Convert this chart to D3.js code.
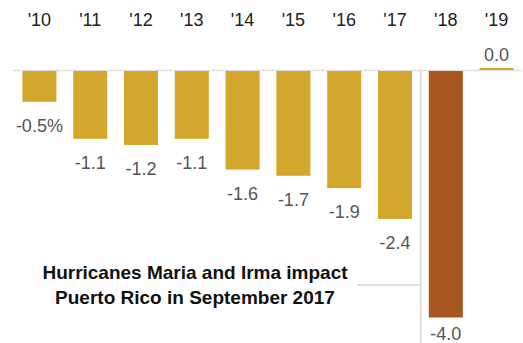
<!DOCTYPE html>
<html>
<head>
<meta charset="utf-8">
<script src="https://cdn.jsdelivr.net/npm/d3@7"></script>
<style>
  html, body { margin: 0; padding: 0; background: #fff; }
  svg { display: block; }
</style>
</head>
<body>
<svg id="chart" width="523" height="343"></svg>
<script>
// Annual change in Puerto Rico population, 2010-2019
const years = ["'10", "'11", "'12", "'13", "'14", "'15", "'16", "'17", "'18", "'19"];
const changes = [-0.5, -1.1, -1.2, -1.1, -1.6, -1.7, -1.9, -2.4, -4.0, 0.0];
const valueLabels = ["-0.5%", "-1.1", "-1.2", "-1.1", "-1.6", "-1.7", "-1.9", "-2.4", "-4.0", "0.0"];
const highlightYear = "'18";
const noteLines = ["Hurricanes Maria and Irma impact", "Puerto Rico in September 2017"];

const W = 523, H = 343;
const gold = "#d3a72b";
const brown = "#a8571f";

const svg = d3.select("#chart");
const font = "'Liberation Sans', Arial, sans-serif";

const x = d3.scaleBand()
  .domain(years)
  .range([14, 522])
  .paddingInner(0.33)
  .paddingOuter(0.165);

const y = d3.scaleLinear()
  .domain([-4, 0])
  .range([317.5, 71]);

const data = years.map((yr, i) => ({ yr, v: changes[i], label: valueLabels[i] }));

// year axis along the top
const xAxis = d3.axisTop(x).tickSize(0).tickPadding(0);
const gx = svg.append("g").attr("transform", "translate(0,26)").call(xAxis);
gx.select(".domain").remove();
gx.selectAll("text")
  .attr("font-family", font)
  .attr("font-size", 18)
  .attr("fill", "#222")
  .attr("dy", 0);

// marker for the hurricane year
const markX = x(highlightYear) - 8;
svg.append("line")
  .attr("x1", markX).attr("x2", markX)
  .attr("y1", y(0)).attr("y2", H)
  .attr("stroke", "#d6d6d6").attr("stroke-width", 1.5);

svg.append("line")
  .attr("x1", 357).attr("x2", markX)
  .attr("y1", 285).attr("y2", 285)
  .attr("stroke", "#d6d6d6").attr("stroke-width", 1.5);

// zero baseline
svg.append("line")
  .attr("x1", 13).attr("x2", 522)
  .attr("y1", y(0) - 0.5).attr("y2", y(0) - 0.5)
  .attr("stroke", "#e0e0e0").attr("stroke-width", 1.5);

// bars
svg.selectAll("rect.bar")
  .data(data)
  .join("rect")
  .attr("class", "bar")
  .attr("x", d => x(d.yr))
  .attr("width", x.bandwidth())
  .attr("y", d => d.v === 0 ? y(0) - 3 : y(0))
  .attr("height", d => d.v === 0 ? 2 : y(d.v) - y(0))
  .attr("fill", d => d.yr === highlightYear ? brown : gold);

// value labels
svg.selectAll("text.val")
  .data(data)
  .join("text")
  .attr("class", "val")
  .attr("x", d => x(d.yr) + x.bandwidth() / 2)
  .attr("y", d => d.v === 0 ? y(0) - 10 : Math.min(y(d.v) + 30, H - 3))
  .attr("text-anchor", "middle")
  .attr("font-family", font)
  .attr("font-size", 18)
  .attr("fill", "#555")
  .text(d => d.label);

// annotation
svg.append("text")
  .attr("x", 195)
  .attr("text-anchor", "middle")
  .attr("font-family", font)
  .attr("font-weight", "bold")
  .attr("font-size", 19)
  .attr("fill", "#111")
  .selectAll("tspan")
  .data(noteLines)
  .join("tspan")
  .attr("x", 195)
  .attr("y", (d, i) => 279 + i * 25)
  .text(d => d);
</script>
</body>
</html>
